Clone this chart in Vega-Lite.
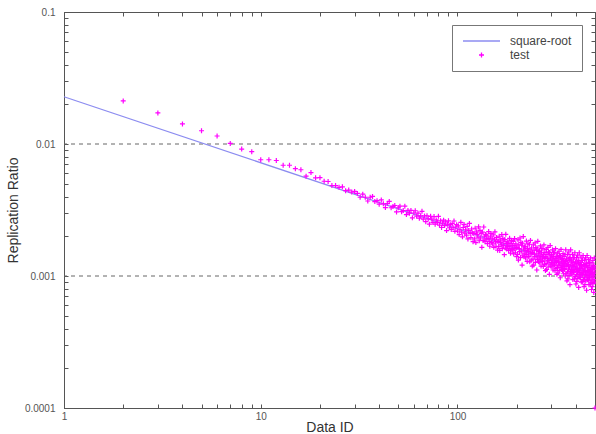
{
"$schema":"https://vega.github.io/schema/vega-lite/v6.json",
"width":531,"height":396,
"autosize":{"type":"none"},
"padding":{"left":64,"top":12,"right":1,"bottom":26},
"background":"white",
"config":{
 "view":{"stroke":"#555","strokeWidth":1},
 "font":"Liberation Sans",
 "axis":{"domainColor":"#555","tickColor":"#555","labelColor":"#555","titleColor":"#333","titleFontWeight":"normal","grid":false,"labelFont":"Liberation Sans","titleFont":"Liberation Sans"},
 "legend":{"orient":"top-right","offset":13,"strokeColor":"#777","fillColor":"white","padding":10,"labelFontSize":12,"labelColor":"#444","labelOffset":9,"rowPadding":2,"clipHeight":12,"symbolStrokeWidth":1.3,"labelFont":"Liberation Sans"}
},
"datasets":{
 "grid":[{"r":0.01},{"r":0.001}],
 "sqrt":[{"id":1,"r":0.0228},{"id":500,"r":0.00102}],
 "test":[
{"id":2,"r":0.0212,"s":"test"},{"id":3,"r":0.0172,"s":"test"},{"id":4,"r":0.0142,"s":"test"},{"id":5,"r":0.0126,"s":"test"},{"id":6,"r":0.0115,"s":"test"},{"id":7,"r":0.0101,"s":"test"},{"id":8,"r":0.00916,"s":"test"},{"id":9,"r":0.00875,"s":"test"},{"id":10,"r":0.0076,"s":"test"},
{"id":11,"r":0.0076,"s":"test"},{"id":12,"r":0.0075,"s":"test"},{"id":13,"r":0.0069,"s":"test"},{"id":14,"r":0.0069,"s":"test"},{"id":15,"r":0.0065,"s":"test"},{"id":16,"r":0.00638,"s":"test"},{"id":17,"r":0.0057,"s":"test"},{"id":18,"r":0.00607,"s":"test"},{"id":19,"r":0.00554,"s":"test"},{"id":20,"r":0.00556,"s":"test"},
{"id":21,"r":0.00522,"s":"test"},{"id":22,"r":0.0052,"s":"test"},{"id":23,"r":0.00485,"s":"test"},{"id":24,"r":0.00484,"s":"test"},{"id":25,"r":0.0047,"s":"test"},{"id":26,"r":0.00474,"s":"test"},{"id":27,"r":0.00443,"s":"test"},{"id":28,"r":0.00448,"s":"test"},{"id":29,"r":0.00432,"s":"test"},{"id":30,"r":0.00437,"s":"test"},
{"id":31,"r":0.00422,"s":"test"},{"id":32,"r":0.00395,"s":"test"},{"id":33,"r":0.00417,"s":"test"},{"id":34,"r":0.00395,"s":"test"},{"id":35,"r":0.0037,"s":"test"},{"id":36,"r":0.00395,"s":"test"},{"id":37,"r":0.00401,"s":"test"},{"id":38,"r":0.00366,"s":"test"},{"id":39,"r":0.00372,"s":"test"},{"id":40,"r":0.0035,"s":"test"},
{"id":41,"r":0.00377,"s":"test"},{"id":42,"r":0.00352,"s":"test"},{"id":43,"r":0.0033,"s":"test"},{"id":44,"r":0.00354,"s":"test"},{"id":45,"r":0.00367,"s":"test"},{"id":46,"r":0.00329,"s":"test"},{"id":47,"r":0.00336,"s":"test"},{"id":48,"r":0.00342,"s":"test"},{"id":49,"r":0.00306,"s":"test"},{"id":50,"r":0.00329,"s":"test"},
{"id":51,"r":0.00338,"s":"test"},{"id":52,"r":0.00307,"s":"test"},{"id":53,"r":0.00313,"s":"test"},{"id":54,"r":0.00338,"s":"test"},{"id":55,"r":0.00292,"s":"test"},{"id":56,"r":0.00314,"s":"test"},{"id":57,"r":0.00299,"s":"test"},{"id":58,"r":0.00314,"s":"test"},{"id":59,"r":0.00276,"s":"test"},{"id":60,"r":0.003,"s":"test"},
{"id":61,"r":0.00312,"s":"test"},{"id":62,"r":0.00284,"s":"test"},{"id":63,"r":0.00299,"s":"test"},{"id":64,"r":0.00274,"s":"test"},{"id":65,"r":0.00286,"s":"test"},{"id":66,"r":0.00309,"s":"test"},{"id":67,"r":0.0027,"s":"test"},{"id":68,"r":0.00285,"s":"test"},{"id":69,"r":0.00258,"s":"test"},{"id":70,"r":0.00286,"s":"test"},
{"id":71,"r":0.00271,"s":"test"},{"id":72,"r":0.00247,"s":"test"},{"id":73,"r":0.00283,"s":"test"},{"id":74,"r":0.0027,"s":"test"},{"id":75,"r":0.00255,"s":"test"},{"id":76,"r":0.00282,"s":"test"},{"id":77,"r":0.00247,"s":"test"},{"id":78,"r":0.00266,"s":"test"},{"id":79,"r":0.00254,"s":"test"},{"id":80,"r":0.00283,"s":"test"},
{"id":81,"r":0.00243,"s":"test"},{"id":82,"r":0.00262,"s":"test"},{"id":83,"r":0.00233,"s":"test"},{"id":84,"r":0.00251,"s":"test"},{"id":85,"r":0.00265,"s":"test"},{"id":86,"r":0.00241,"s":"test"},{"id":87,"r":0.00257,"s":"test"},{"id":88,"r":0.00221,"s":"test"},{"id":89,"r":0.00247,"s":"test"},{"id":90,"r":0.00262,"s":"test"},
{"id":91,"r":0.00232,"s":"test"},{"id":92,"r":0.00245,"s":"test"},{"id":93,"r":0.00225,"s":"test"},{"id":94,"r":0.00249,"s":"test"},{"id":95,"r":0.00232,"s":"test"},{"id":96,"r":0.00261,"s":"test"},{"id":97,"r":0.00218,"s":"test"},{"id":98,"r":0.00235,"s":"test"},{"id":99,"r":0.00245,"s":"test"},{"id":100,"r":0.00219,"s":"test"},
{"id":101,"r":0.0024,"s":"test"},{"id":102,"r":0.00206,"s":"test"},{"id":103,"r":0.00226,"s":"test"},{"id":104,"r":0.00255,"s":"test"},{"id":105,"r":0.00215,"s":"test"},{"id":106,"r":0.00198,"s":"test"},{"id":107,"r":0.00233,"s":"test"},{"id":108,"r":0.00246,"s":"test"},{"id":109,"r":0.00211,"s":"test"},{"id":110,"r":0.00224,"s":"test"},
{"id":111,"r":0.00204,"s":"test"},{"id":112,"r":0.00238,"s":"test"},{"id":113,"r":0.00191,"s":"test"},{"id":114,"r":0.00221,"s":"test"},{"id":115,"r":0.0025,"s":"test"},{"id":116,"r":0.0021,"s":"test"},{"id":117,"r":0.00195,"s":"test"},{"id":118,"r":0.00227,"s":"test"},{"id":119,"r":0.00212,"s":"test"},{"id":120,"r":0.00182,"s":"test"},
{"id":121,"r":0.0021,"s":"test"},{"id":122,"r":0.00191,"s":"test"},{"id":123,"r":0.0023,"s":"test"},{"id":124,"r":0.00179,"s":"test"},{"id":125,"r":0.00216,"s":"test"},{"id":126,"r":0.00206,"s":"test"},{"id":127,"r":0.00197,"s":"test"},{"id":128,"r":0.00236,"s":"test"},{"id":129,"r":0.00185,"s":"test"},{"id":130,"r":0.00222,"s":"test"},
{"id":131,"r":0.00194,"s":"test"},{"id":132,"r":0.0021,"s":"test"},{"id":133,"r":0.00165,"s":"test"},{"id":134,"r":0.00215,"s":"test"},{"id":135,"r":0.00186,"s":"test"},{"id":136,"r":0.00235,"s":"test"},{"id":137,"r":0.002,"s":"test"},{"id":138,"r":0.00182,"s":"test"},{"id":139,"r":0.00206,"s":"test"},{"id":140,"r":0.0019,"s":"test"},
{"id":141,"r":0.00204,"s":"test"},{"id":142,"r":0.00176,"s":"test"},{"id":143,"r":0.00193,"s":"test"},{"id":144,"r":0.00217,"s":"test"},{"id":145,"r":0.00183,"s":"test"},{"id":146,"r":0.00168,"s":"test"},{"id":147,"r":0.00198,"s":"test"},{"id":148,"r":0.0021,"s":"test"},{"id":149,"r":0.0018,"s":"test"},{"id":150,"r":0.00191,"s":"test"},
{"id":151,"r":0.00175,"s":"test"},{"id":152,"r":0.00205,"s":"test"},{"id":153,"r":0.00165,"s":"test"},{"id":154,"r":0.0019,"s":"test"},{"id":155,"r":0.00216,"s":"test"},{"id":156,"r":0.00181,"s":"test"},{"id":157,"r":0.00168,"s":"test"},{"id":158,"r":0.00196,"s":"test"},{"id":159,"r":0.00183,"s":"test"},{"id":160,"r":0.00157,"s":"test"},
{"id":161,"r":0.00183,"s":"test"},{"id":162,"r":0.00167,"s":"test"},{"id":163,"r":0.002,"s":"test"},{"id":164,"r":0.00156,"s":"test"},{"id":165,"r":0.00188,"s":"test"},{"id":166,"r":0.00179,"s":"test"},{"id":167,"r":0.00172,"s":"test"},{"id":168,"r":0.00206,"s":"test"},{"id":169,"r":0.00161,"s":"test"},{"id":170,"r":0.00193,"s":"test"},
{"id":171,"r":0.0017,"s":"test"},{"id":172,"r":0.00184,"s":"test"},{"id":173,"r":0.00145,"s":"test"},{"id":174,"r":0.00189,"s":"test"},{"id":175,"r":0.00163,"s":"test"},{"id":176,"r":0.00207,"s":"test"},{"id":177,"r":0.00176,"s":"test"},{"id":178,"r":0.0016,"s":"test"},{"id":179,"r":0.00181,"s":"test"},{"id":180,"r":0.00167,"s":"test"},
{"id":181,"r":0.00181,"s":"test"},{"id":182,"r":0.00156,"s":"test"},{"id":183,"r":0.00171,"s":"test"},{"id":184,"r":0.00193,"s":"test"},{"id":185,"r":0.00162,"s":"test"},{"id":186,"r":0.00149,"s":"test"},{"id":187,"r":0.00176,"s":"test"},{"id":188,"r":0.00186,"s":"test"},{"id":189,"r":0.00159,"s":"test"},{"id":190,"r":0.00169,"s":"test"},
{"id":191,"r":0.00157,"s":"test"},{"id":192,"r":0.00183,"s":"test"},{"id":193,"r":0.00147,"s":"test"},{"id":194,"r":0.0017,"s":"test"},{"id":195,"r":0.00192,"s":"test"},{"id":196,"r":0.00161,"s":"test"},{"id":197,"r":0.0015,"s":"test"},{"id":198,"r":0.00175,"s":"test"},{"id":199,"r":0.00163,"s":"test"},{"id":200,"r":0.0014,"s":"test"},
{"id":201,"r":0.00165,"s":"test"},{"id":202,"r":0.00146,"s":"test"},{"id":203,"r":0.00188,"s":"test"},{"id":204,"r":0.00132,"s":"test"},{"id":205,"r":0.00172,"s":"test"},{"id":206,"r":0.00161,"s":"test"},{"id":207,"r":0.00153,"s":"test"},{"id":208,"r":0.00194,"s":"test"},{"id":209,"r":0.00138,"s":"test"},{"id":210,"r":0.0018,"s":"test"},
{"id":211,"r":0.00154,"s":"test"},{"id":212,"r":0.00171,"s":"test"},{"id":213,"r":0.00121,"s":"test"},{"id":214,"r":0.00177,"s":"test"},{"id":215,"r":0.00144,"s":"test"},{"id":216,"r":0.00199,"s":"test"},{"id":217,"r":0.0016,"s":"test"},{"id":218,"r":0.0014,"s":"test"},{"id":219,"r":0.00166,"s":"test"},{"id":220,"r":0.00149,"s":"test"},
{"id":221,"r":0.00168,"s":"test"},{"id":222,"r":0.00137,"s":"test"},{"id":223,"r":0.00156,"s":"test"},{"id":224,"r":0.00184,"s":"test"},{"id":225,"r":0.00146,"s":"test"},{"id":226,"r":0.00129,"s":"test"},{"id":227,"r":0.00162,"s":"test"},{"id":228,"r":0.00175,"s":"test"},{"id":229,"r":0.00141,"s":"test"},{"id":230,"r":0.00153,"s":"test"},
{"id":231,"r":0.0014,"s":"test"},{"id":232,"r":0.00174,"s":"test"},{"id":233,"r":0.00128,"s":"test"},{"id":234,"r":0.00158,"s":"test"},{"id":235,"r":0.00186,"s":"test"},{"id":236,"r":0.00147,"s":"test"},{"id":237,"r":0.00132,"s":"test"},{"id":238,"r":0.00163,"s":"test"},{"id":239,"r":0.00149,"s":"test"},{"id":240,"r":0.00119,"s":"test"},
{"id":241,"r":0.00151,"s":"test"},{"id":242,"r":0.00134,"s":"test"},{"id":243,"r":0.00172,"s":"test"},{"id":244,"r":0.00121,"s":"test"},{"id":245,"r":0.00157,"s":"test"},{"id":246,"r":0.00147,"s":"test"},{"id":247,"r":0.0014,"s":"test"},{"id":248,"r":0.00178,"s":"test"},{"id":249,"r":0.00127,"s":"test"},{"id":250,"r":0.00164,"s":"test"},
{"id":251,"r":0.00141,"s":"test"},{"id":252,"r":0.00157,"s":"test"},{"id":253,"r":0.00111,"s":"test"},{"id":254,"r":0.00163,"s":"test"},{"id":255,"r":0.00133,"s":"test"},{"id":256,"r":0.00183,"s":"test"},{"id":257,"r":0.00147,"s":"test"},{"id":258,"r":0.00128,"s":"test"},{"id":259,"r":0.00153,"s":"test"},{"id":260,"r":0.00137,"s":"test"},
{"id":261,"r":0.00155,"s":"test"},{"id":262,"r":0.00126,"s":"test"},{"id":263,"r":0.00144,"s":"test"},{"id":264,"r":0.00169,"s":"test"},{"id":265,"r":0.00134,"s":"test"},{"id":266,"r":0.00119,"s":"test"},{"id":267,"r":0.0015,"s":"test"},{"id":268,"r":0.00161,"s":"test"},{"id":269,"r":0.0013,"s":"test"},{"id":270,"r":0.00141,"s":"test"},
{"id":271,"r":0.00129,"s":"test"},{"id":272,"r":0.00161,"s":"test"},{"id":273,"r":0.00118,"s":"test"},{"id":274,"r":0.00146,"s":"test"},{"id":275,"r":0.00172,"s":"test"},{"id":276,"r":0.00136,"s":"test"},{"id":277,"r":0.00122,"s":"test"},{"id":278,"r":0.00151,"s":"test"},{"id":279,"r":0.00137,"s":"test"},{"id":280,"r":0.0011,"s":"test"},
{"id":281,"r":0.0014,"s":"test"},{"id":282,"r":0.00124,"s":"test"},{"id":283,"r":0.00159,"s":"test"},{"id":284,"r":0.00112,"s":"test"},{"id":285,"r":0.00146,"s":"test"},{"id":286,"r":0.00136,"s":"test"},{"id":287,"r":0.0013,"s":"test"},{"id":288,"r":0.00165,"s":"test"},{"id":289,"r":0.00117,"s":"test"},{"id":290,"r":0.00152,"s":"test"},
{"id":291,"r":0.00131,"s":"test"},{"id":292,"r":0.00146,"s":"test"},{"id":293,"r":0.00103,"s":"test"},{"id":294,"r":0.00151,"s":"test"},{"id":295,"r":0.00123,"s":"test"},{"id":296,"r":0.0017,"s":"test"},{"id":297,"r":0.00137,"s":"test"},{"id":298,"r":0.00119,"s":"test"},{"id":299,"r":0.00142,"s":"test"},{"id":300,"r":0.00127,"s":"test"},
{"id":301,"r":0.00145,"s":"test"},{"id":302,"r":0.00117,"s":"test"},{"id":303,"r":0.00134,"s":"test"},{"id":304,"r":0.00158,"s":"test"},{"id":305,"r":0.00125,"s":"test"},{"id":306,"r":0.00111,"s":"test"},{"id":307,"r":0.0014,"s":"test"},{"id":308,"r":0.0015,"s":"test"},{"id":309,"r":0.00121,"s":"test"},{"id":310,"r":0.00132,"s":"test"},
{"id":311,"r":0.00121,"s":"test"},{"id":312,"r":0.0015,"s":"test"},{"id":313,"r":0.0011,"s":"test"},{"id":314,"r":0.00136,"s":"test"},{"id":315,"r":0.00161,"s":"test"},{"id":316,"r":0.00127,"s":"test"},{"id":317,"r":0.00114,"s":"test"},{"id":318,"r":0.00141,"s":"test"},{"id":319,"r":0.00128,"s":"test"},{"id":320,"r":0.00103,"s":"test"},
{"id":321,"r":0.00131,"s":"test"},{"id":322,"r":0.00116,"s":"test"},{"id":323,"r":0.00149,"s":"test"},{"id":324,"r":0.00105,"s":"test"},{"id":325,"r":0.00137,"s":"test"},{"id":326,"r":0.00128,"s":"test"},{"id":327,"r":0.00121,"s":"test"},{"id":328,"r":0.00154,"s":"test"},{"id":329,"r":0.0011,"s":"test"},{"id":330,"r":0.00143,"s":"test"},
{"id":331,"r":0.00123,"s":"test"},{"id":332,"r":0.00137,"s":"test"},{"id":333,"r":0.00097,"s":"test"},{"id":334,"r":0.00142,"s":"test"},{"id":335,"r":0.00116,"s":"test"},{"id":336,"r":0.00159,"s":"test"},{"id":337,"r":0.00128,"s":"test"},{"id":338,"r":0.00112,"s":"test"},{"id":339,"r":0.00133,"s":"test"},{"id":340,"r":0.0012,"s":"test"},
{"id":341,"r":0.00136,"s":"test"},{"id":342,"r":0.0011,"s":"test"},{"id":343,"r":0.00126,"s":"test"},{"id":344,"r":0.00148,"s":"test"},{"id":345,"r":0.00118,"s":"test"},{"id":346,"r":0.00104,"s":"test"},{"id":347,"r":0.00131,"s":"test"},{"id":348,"r":0.00141,"s":"test"},{"id":349,"r":0.00114,"s":"test"},{"id":350,"r":0.00124,"s":"test"},
{"id":351,"r":0.00112,"s":"test"},{"id":352,"r":0.00145,"s":"test"},{"id":353,"r":0.001,"s":"test"},{"id":354,"r":0.00129,"s":"test"},{"id":355,"r":0.00158,"s":"test"},{"id":356,"r":0.00118,"s":"test"},{"id":357,"r":0.00104,"s":"test"},{"id":358,"r":0.00135,"s":"test"},{"id":359,"r":0.00121,"s":"test"},{"id":360,"r":0.00092,"s":"test"},
{"id":361,"r":0.00125,"s":"test"},{"id":362,"r":0.00107,"s":"test"},{"id":363,"r":0.00146,"s":"test"},{"id":364,"r":0.00095,"s":"test"},{"id":365,"r":0.00131,"s":"test"},{"id":366,"r":0.00122,"s":"test"},{"id":367,"r":0.00113,"s":"test"},{"id":368,"r":0.00152,"s":"test"},{"id":369,"r":0.00101,"s":"test"},{"id":370,"r":0.00137,"s":"test"},
{"id":371,"r":0.00115,"s":"test"},{"id":372,"r":0.00132,"s":"test"},{"id":373,"r":0.00086,"s":"test"},{"id":374,"r":0.00138,"s":"test"},{"id":375,"r":0.00108,"s":"test"},{"id":376,"r":0.00158,"s":"test"},{"id":377,"r":0.00121,"s":"test"},{"id":378,"r":0.00104,"s":"test"},{"id":379,"r":0.00128,"s":"test"},{"id":380,"r":0.00112,"s":"test"},
{"id":381,"r":0.00132,"s":"test"},{"id":382,"r":0.00102,"s":"test"},{"id":383,"r":0.0012,"s":"test"},{"id":384,"r":0.00146,"s":"test"},{"id":385,"r":0.0011,"s":"test"},{"id":386,"r":0.00094,"s":"test"},{"id":387,"r":0.00127,"s":"test"},{"id":388,"r":0.00138,"s":"test"},{"id":389,"r":0.00107,"s":"test"},{"id":390,"r":0.00118,"s":"test"},
{"id":391,"r":0.00107,"s":"test"},{"id":392,"r":0.00138,"s":"test"},{"id":393,"r":0.00095,"s":"test"},{"id":394,"r":0.00123,"s":"test"},{"id":395,"r":0.0015,"s":"test"},{"id":396,"r":0.00112,"s":"test"},{"id":397,"r":0.00099,"s":"test"},{"id":398,"r":0.00128,"s":"test"},{"id":399,"r":0.00115,"s":"test"},{"id":400,"r":0.00087,"s":"test"},
{"id":401,"r":0.00119,"s":"test"},{"id":402,"r":0.00102,"s":"test"},{"id":403,"r":0.00138,"s":"test"},{"id":404,"r":0.00091,"s":"test"},{"id":405,"r":0.00125,"s":"test"},{"id":406,"r":0.00115,"s":"test"},{"id":407,"r":0.00108,"s":"test"},{"id":408,"r":0.00144,"s":"test"},{"id":409,"r":0.00096,"s":"test"},{"id":410,"r":0.0013,"s":"test"},
{"id":411,"r":0.0011,"s":"test"},{"id":412,"r":0.00125,"s":"test"},{"id":413,"r":0.00082,"s":"test"},{"id":414,"r":0.00131,"s":"test"},{"id":415,"r":0.00103,"s":"test"},{"id":416,"r":0.0015,"s":"test"},{"id":417,"r":0.00115,"s":"test"},{"id":418,"r":0.00098,"s":"test"},{"id":419,"r":0.00122,"s":"test"},{"id":420,"r":0.00106,"s":"test"},
{"id":421,"r":0.00126,"s":"test"},{"id":422,"r":0.00097,"s":"test"},{"id":423,"r":0.00114,"s":"test"},{"id":424,"r":0.00139,"s":"test"},{"id":425,"r":0.00105,"s":"test"},{"id":426,"r":0.0009,"s":"test"},{"id":427,"r":0.0012,"s":"test"},{"id":428,"r":0.00131,"s":"test"},{"id":429,"r":0.00102,"s":"test"},{"id":430,"r":0.00113,"s":"test"},
{"id":431,"r":0.00102,"s":"test"},{"id":432,"r":0.00131,"s":"test"},{"id":433,"r":0.00091,"s":"test"},{"id":434,"r":0.00117,"s":"test"},{"id":435,"r":0.00143,"s":"test"},{"id":436,"r":0.00107,"s":"test"},{"id":437,"r":0.00094,"s":"test"},{"id":438,"r":0.00122,"s":"test"},{"id":439,"r":0.00109,"s":"test"},{"id":440,"r":0.00083,"s":"test"},
{"id":441,"r":0.00113,"s":"test"},{"id":442,"r":0.00097,"s":"test"},{"id":443,"r":0.00132,"s":"test"},{"id":444,"r":0.00086,"s":"test"},{"id":445,"r":0.00119,"s":"test"},{"id":446,"r":0.0011,"s":"test"},{"id":447,"r":0.00103,"s":"test"},{"id":448,"r":0.00137,"s":"test"},{"id":449,"r":0.00092,"s":"test"},{"id":450,"r":0.00124,"s":"test"},
{"id":451,"r":0.00105,"s":"test"},{"id":452,"r":0.0012,"s":"test"},{"id":453,"r":0.00078,"s":"test"},{"id":454,"r":0.00125,"s":"test"},{"id":455,"r":0.00098,"s":"test"},{"id":456,"r":0.00143,"s":"test"},{"id":457,"r":0.0011,"s":"test"},{"id":458,"r":0.00094,"s":"test"},{"id":459,"r":0.00116,"s":"test"},{"id":460,"r":0.00101,"s":"test"},
{"id":461,"r":0.0012,"s":"test"},{"id":462,"r":0.00093,"s":"test"},{"id":463,"r":0.00109,"s":"test"},{"id":464,"r":0.00133,"s":"test"},{"id":465,"r":0.001,"s":"test"},{"id":466,"r":0.00086,"s":"test"},{"id":467,"r":0.00115,"s":"test"},{"id":468,"r":0.00126,"s":"test"},{"id":469,"r":0.00097,"s":"test"},{"id":470,"r":0.00108,"s":"test"},
{"id":471,"r":0.00097,"s":"test"},{"id":472,"r":0.00126,"s":"test"},{"id":473,"r":0.00087,"s":"test"},{"id":474,"r":0.00112,"s":"test"},{"id":475,"r":0.00137,"s":"test"},{"id":476,"r":0.00103,"s":"test"},{"id":477,"r":0.0009,"s":"test"},{"id":478,"r":0.00117,"s":"test"},{"id":479,"r":0.00105,"s":"test"},{"id":480,"r":0.00079,"s":"test"},
{"id":481,"r":0.00109,"s":"test"},{"id":482,"r":0.00093,"s":"test"},{"id":483,"r":0.00126,"s":"test"},{"id":484,"r":0.00083,"s":"test"},{"id":485,"r":0.00114,"s":"test"},{"id":486,"r":0.00106,"s":"test"},{"id":487,"r":0.00098,"s":"test"},{"id":488,"r":0.00131,"s":"test"},{"id":489,"r":0.00088,"s":"test"},{"id":490,"r":0.00119,"s":"test"},
{"id":491,"r":0.001,"s":"test"},{"id":492,"r":0.00115,"s":"test"},{"id":493,"r":0.00075,"s":"test"},{"id":494,"r":0.0012,"s":"test"},{"id":495,"r":0.00094,"s":"test"},{"id":496,"r":0.00137,"s":"test"},{"id":497,"r":0.00105,"s":"test"},{"id":498,"r":0.0009,"s":"test"},{"id":499,"r":0.00112,"s":"test"},{"id":500,"r":0.0001,"s":"test"}
 ]
},
"resolve":{"axis":{"x":"independent","y":"independent"}},
"layer":[
 {"data":{"name":"grid"},
  "mark":{"type":"rule","strokeDash":[4,4],"color":"#666","strokeWidth":1},
  "encoding":{"y":{"field":"r","type":"quantitative","scale":{"type":"log","domain":[0.0001,0.1],"nice":false},"axis":null}}},
 {"data":{"name":"sqrt"},
  "mark":{"type":"line","color":"#8c8cf0","strokeWidth":1.3},
  "encoding":{
   "x":{"field":"id","type":"quantitative","scale":{"type":"log","domain":[1,500],"nice":false},
        "axis":{"orient":"top","values":[1,2,3,4,5,6,7,8,9,10,20,30,40,50,60,70,80,90,100,200,300,400,500],"labels":false,"title":null,"tickSize":-4,"domain":false}},
   "y":{"field":"r","type":"quantitative","scale":{"type":"log","domain":[0.0001,0.1],"nice":false},
        "axis":{"orient":"right","values":[0.0001,0.0002,0.0003,0.0004,0.0005,0.0006,0.0007,0.0008,0.0009,0.001,0.002,0.003,0.004,0.005,0.006,0.007,0.008,0.009,0.01,0.02,0.03,0.04,0.05,0.06,0.07,0.08,0.09,0.1],"labels":false,"title":null,"tickSize":-4,"domain":false}}}},
 {"data":{"name":"test"},
  "mark":{"type":"point","filled":false,"strokeWidth":1.2,"opacity":1,"clip":false},
  "encoding":{
   "x":{"field":"id","type":"quantitative","scale":{"type":"log","domain":[1,500],"nice":false},
        "axis":{"orient":"bottom","title":"Data ID","values":[1,2,3,4,5,6,7,8,9,10,20,30,40,50,60,70,80,90,100,200,300,400,500],"format":"~g","labelExpr":"indexof([1,10,100], datum.value) >= 0 ? datum.label : ''","labelFlush":false,"labelOverlap":false,"tickSize":-4,"labelPadding":7,"labelFontSize":10,"titleFontSize":14,"titleBaseline":"alphabetic","titleY":23}},
   "y":{"field":"r","type":"quantitative","scale":{"type":"log","domain":[0.0001,0.1],"nice":false},
        "axis":{"orient":"left","title":"Replication Ratio","values":[0.0001,0.0002,0.0003,0.0004,0.0005,0.0006,0.0007,0.0008,0.0009,0.001,0.002,0.003,0.004,0.005,0.006,0.007,0.008,0.009,0.01,0.02,0.03,0.04,0.05,0.06,0.07,0.08,0.09,0.1],"format":"~g","labelExpr":"indexof([0.0001,0.001,0.01,0.1], datum.value) >= 0 ? datum.label : ''","labelFlush":false,"labelOverlap":false,"tickSize":-4,"labelPadding":13,"labelFontSize":10,"titleFontSize":14,"titlePadding":4}},
   "color":{"field":"s","type":"nominal","scale":{"domain":["square-root","test"],"range":["#8c8cf0","#ff00ff"]},"legend":{"title":null}},
   "shape":{"field":"s","type":"nominal","scale":{"domain":["square-root","test"],"range":["M-1,0H1","M-1,0H1M0,-1V1"]},"legend":{"title":null}},
   "size":{"field":"s","type":"nominal","scale":{"domain":["square-root","test"],"range":[1369,25]},"legend":{"title":null}}}}
]
}
